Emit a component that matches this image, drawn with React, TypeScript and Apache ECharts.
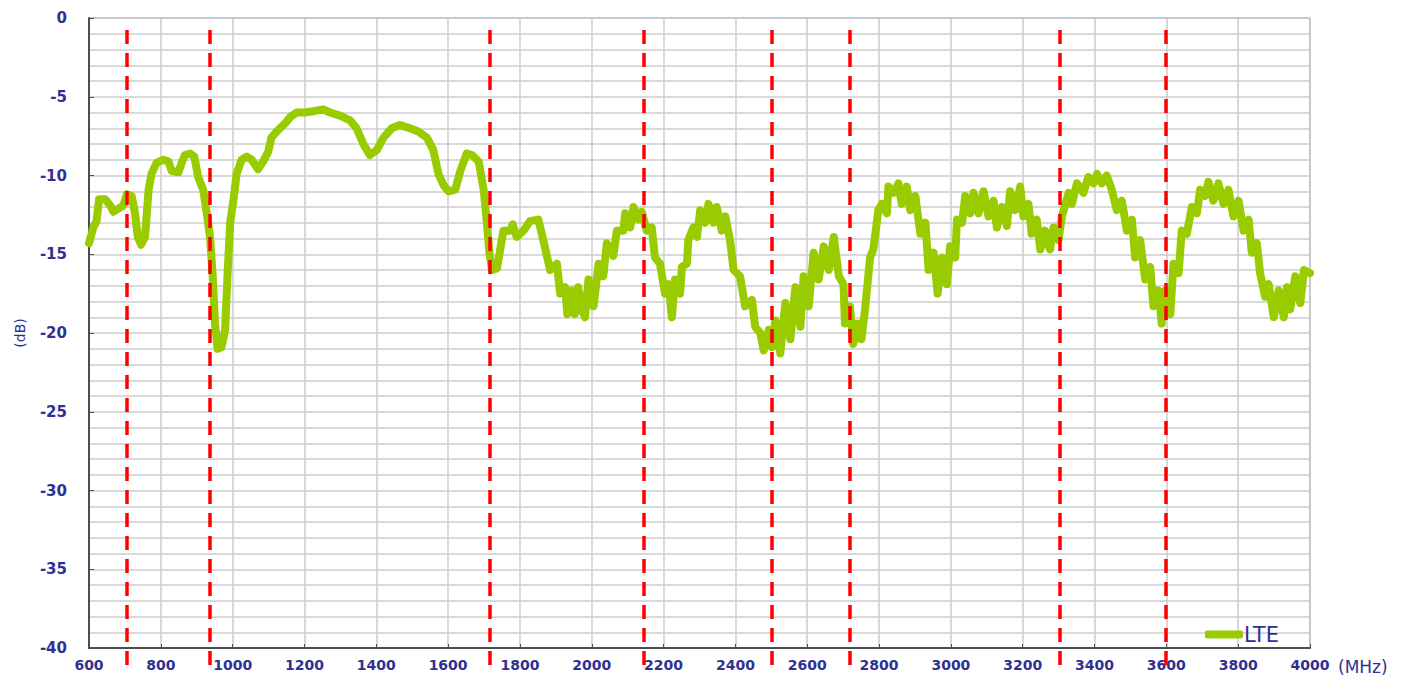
import React, { useEffect, useRef } from "react";
import * as echarts from "echarts";

// Frequency (MHz)
const freqMHz = [
  600, 612, 621, 628, 645, 659, 668, 682, 696, 705, 719, 728, 736, 745, 756, 766, 774, 788, 807, 821,
  830, 849, 858, 867, 881, 893, 904, 918, 928, 937, 944, 951, 958, 969, 979, 986, 993, 1002, 1011, 1025,
  1039, 1053, 1071, 1085, 1099, 1108, 1127, 1146, 1160, 1178, 1201, 1229, 1252, 1271, 1299, 1327, 1345, 1364, 1382, 1401,
  1420, 1443, 1466, 1494, 1517, 1541, 1559, 1573, 1587, 1601, 1620, 1634, 1652, 1666, 1685, 1699, 1708, 1715, 1722, 1736,
  1745, 1754, 1773, 1780, 1791, 1810, 1828, 1851, 1865, 1884, 1903, 1912, 1926, 1932, 1944, 1953, 1962, 1972, 1981, 1991,
  2005, 2019, 2032, 2042, 2060, 2070, 2088, 2093, 2107, 2116, 2130, 2139, 2153, 2167, 2176, 2190, 2204, 2214, 2223, 2232,
  2246, 2251, 2265, 2269, 2283, 2293, 2302, 2316, 2325, 2339, 2348, 2362, 2372, 2385, 2395, 2413, 2427, 2446, 2455, 2469,
  2479, 2493, 2502, 2511, 2525, 2539, 2553, 2567, 2581, 2590, 2604, 2618, 2632, 2646, 2660, 2674, 2688, 2701, 2705, 2719,
  2728, 2742, 2751, 2761, 2775, 2784, 2798, 2808, 2822, 2826, 2840, 2854, 2863, 2877, 2887, 2901, 2915, 2929, 2938, 2952,
  2963, 2975, 2989, 2998, 3012, 3017, 3031, 3040, 3054, 3063, 3077, 3091, 3105, 3119, 3128, 3142, 3156, 3165, 3179, 3193,
  3202, 3216, 3225, 3239, 3249, 3262, 3276, 3286, 3300, 3309, 3328, 3337, 3351, 3369, 3383, 3397, 3407, 3420, 3434, 3448,
  3462, 3476, 3490, 3504, 3513, 3527, 3541, 3555, 3564, 3578, 3587, 3597, 3611, 3620, 3634, 3643, 3657, 3671, 3685, 3694,
  3708, 3717, 3731, 3745, 3759, 3773, 3787, 3801, 3815, 3829, 3838, 3852, 3861, 3875, 3885, 3899, 3913, 3927, 3936, 3945,
  3959, 3973, 3983, 4000,
];

// LTE response (dB) at each frequency above
const lteDb = [
  -14.3, -13.3, -12.9, -11.5, -11.5, -11.9, -12.3, -12.1, -11.9, -11.2, -11.3, -12.4, -13.9, -14.4, -13.9, -10.9, -9.9, -9.2, -9.0, -9.1,
  -9.7, -9.8, -9.2, -8.7, -8.6, -8.8, -10.1, -10.9, -12.4, -13.9, -16.2, -19.4, -21.0, -20.9, -19.8, -16.2, -13.0, -11.6, -9.9, -9.0,
  -8.8, -9.0, -9.6, -9.1, -8.5, -7.6, -7.1, -6.7, -6.3, -6.0, -6.0, -5.9, -5.8, -6.0, -6.2, -6.5, -7.0, -8.0, -8.7, -8.4,
  -7.6, -7.0, -6.8, -7.0, -7.2, -7.6, -8.4, -9.9, -10.6, -11.0, -10.9, -9.7, -8.6, -8.7, -9.1, -10.9, -13.0, -14.9, -16.0, -15.9,
  -14.7, -13.5, -13.5, -13.1, -13.9, -13.5, -12.9, -12.8, -14.1, -16.0, -15.6, -17.5, -17.1, -18.8, -17.3, -18.8, -17.1, -18.5, -19.0, -16.6,
  -18.3, -15.6, -16.4, -14.3, -15.1, -13.5, -13.5, -12.4, -13.3, -12.0, -12.8, -12.3, -13.5, -13.3, -15.2, -15.6, -17.5, -16.9, -19.0, -16.6,
  -17.5, -15.8, -15.6, -14.1, -13.3, -13.9, -12.2, -13.0, -11.8, -13.0, -12.0, -13.5, -12.6, -14.1, -16.0, -16.4, -18.3, -17.9, -19.6, -20.0,
  -21.1, -19.8, -20.9, -19.2, -21.3, -18.1, -20.4, -17.1, -19.6, -16.4, -18.3, -14.9, -16.6, -14.5, -16.0, -13.9, -16.4, -16.9, -19.4, -18.3,
  -20.7, -19.4, -20.4, -18.5, -15.2, -14.7, -12.2, -11.8, -12.4, -10.7, -11.1, -10.5, -11.8, -10.7, -12.2, -11.3, -13.7, -13.0, -16.0, -14.9,
  -17.5, -15.2, -16.9, -14.5, -15.2, -12.8, -13.0, -11.3, -12.4, -11.1, -12.4, -11.0, -12.6, -11.6, -13.3, -12.0, -13.2, -11.0, -12.2, -10.7,
  -12.6, -11.8, -13.7, -12.8, -14.7, -13.5, -14.7, -13.3, -14.1, -12.6, -11.1, -11.8, -10.5, -11.1, -10.1, -10.5, -9.9, -10.5, -10.0, -10.9,
  -12.2, -11.6, -13.5, -12.8, -15.2, -14.1, -16.6, -15.8, -18.3, -17.3, -19.4, -17.3, -18.8, -15.6, -16.2, -13.5, -13.7, -12.0, -12.4, -10.9,
  -11.3, -10.4, -11.6, -10.5, -11.8, -10.9, -12.6, -11.6, -13.5, -12.8, -14.9, -14.3, -16.2, -17.7, -16.9, -19.0, -17.3, -19.0, -17.1, -18.5,
  -16.4, -18.1, -16.0, -16.2,
];

// Band edge markers (MHz), red dashed lines
const bandEdgesMHz = [705, 935, 1717, 2145, 2500, 2717, 3302, 3597];

const seriesName = "LTE";
const navy = "#2E3192";
const green = "#99CC00";

export default function App() {
  const ref = useRef<HTMLDivElement>(null);

  useEffect(() => {
    if (!ref.current) return;
    const chart = echarts.init(ref.current, null, { renderer: "svg" });
    const lineData = freqMHz.map((f, i) => [f, lteDb[i]]);
    const fontFamily = "DejaVu Sans, Verdana, sans-serif";

    chart.setOption({
      animation: false,
      backgroundColor: "#ffffff",
      legend: {
        data: [seriesName],
        left: 1200,
        top: 619,
        itemWidth: 38,
        itemHeight: 8,
        itemGap: 4,
        icon: "roundRect",
        textStyle: { color: navy, fontSize: 21, fontFamily, padding: [0, 0, 0, -4] },
      },
      grid: [
        {
          left: 89,
          right: 114,
          top: 18,
          bottom: 32,
          show: true,
          borderColor: "#777777",
          borderWidth: 1,
        },
        {
          left: 89,
          right: 114,
          top: 23,
          bottom: 15,
          show: false,
        },
      ],
      xAxis: [
        {
          type: "value",
          gridIndex: 0,
          min: 600,
          max: 4000,
          interval: 200,
          name: "(MHz)",
          nameLocation: "end",
          nameGap: 28,
          nameTextStyle: {
            color: navy,
            fontSize: 17,
            fontFamily,
            verticalAlign: "top",
            padding: [10, 0, 0, 0],
          },
          axisLine: { show: true, onZero: false, lineStyle: { color: "#4d4d4d", width: 2 } },
          axisTick: { show: true, inside: true, length: 4, lineStyle: { color: "#4d4d4d" } },
          axisLabel: {
            color: navy,
            fontSize: 14,
            fontWeight: "bold",
            fontFamily,
            margin: 10,
            formatter: (v: number) => String(v),
          },
          splitLine: { show: true, lineStyle: { color: "#cccccc", width: 1.5 } },
        },
        {
          type: "value",
          gridIndex: 1,
          min: 600,
          max: 4000,
          show: false,
        },
      ],
      yAxis: [
        {
          type: "value",
          gridIndex: 0,
          min: -40,
          max: 0,
          interval: 5,
          name: "(dB)",
          nameLocation: "middle",
          nameGap: 62,
          nameRotate: 90,
          nameTextStyle: { color: navy, fontSize: 14, fontFamily },
          axisLine: { show: true, lineStyle: { color: "#4d4d4d", width: 2 } },
          axisTick: { show: true, inside: true, length: 5, lineStyle: { color: "#4d4d4d" } },
          axisLabel: {
            color: navy,
            fontSize: 15,
            fontWeight: "bold",
            fontFamily,
            margin: 22,
            formatter: (v: number) => String(v),
          },
          splitLine: { show: true, lineStyle: { color: "#cccccc", width: 1.5 } },
          minorTick: { show: false, splitNumber: 5 },
          minorSplitLine: { show: true, lineStyle: { color: "#cccccc", width: 1.5 } },
        },
        {
          type: "value",
          gridIndex: 1,
          min: 0,
          max: 1,
          show: false,
        },
      ],
      series: [
        {
          name: seriesName,
          type: "line",
          xAxisIndex: 0,
          yAxisIndex: 0,
          data: lineData,
          showSymbol: false,
          symbol: "none",
          itemStyle: { color: green },
          lineStyle: { color: green, width: 8, cap: "round", join: "round" },
          z: 3,
        },
        {
          name: "bands",
          type: "line",
          xAxisIndex: 1,
          yAxisIndex: 1,
          data: [],
          z: 5,
          markLine: {
            silent: true,
            symbol: "none",
            label: { show: false },
            lineStyle: { color: "#ff0000", type: [14, 9], width: 3.5 },
            data: bandEdgesMHz.map((v) => ({ xAxis: v })),
          },
        },
      ],
    });

    return () => chart.dispose();
  }, []);

  return (
    <div
      ref={ref}
      style={{ position: "fixed", left: 0, top: 0, width: 1424, height: 680 }}
    />
  );
}
